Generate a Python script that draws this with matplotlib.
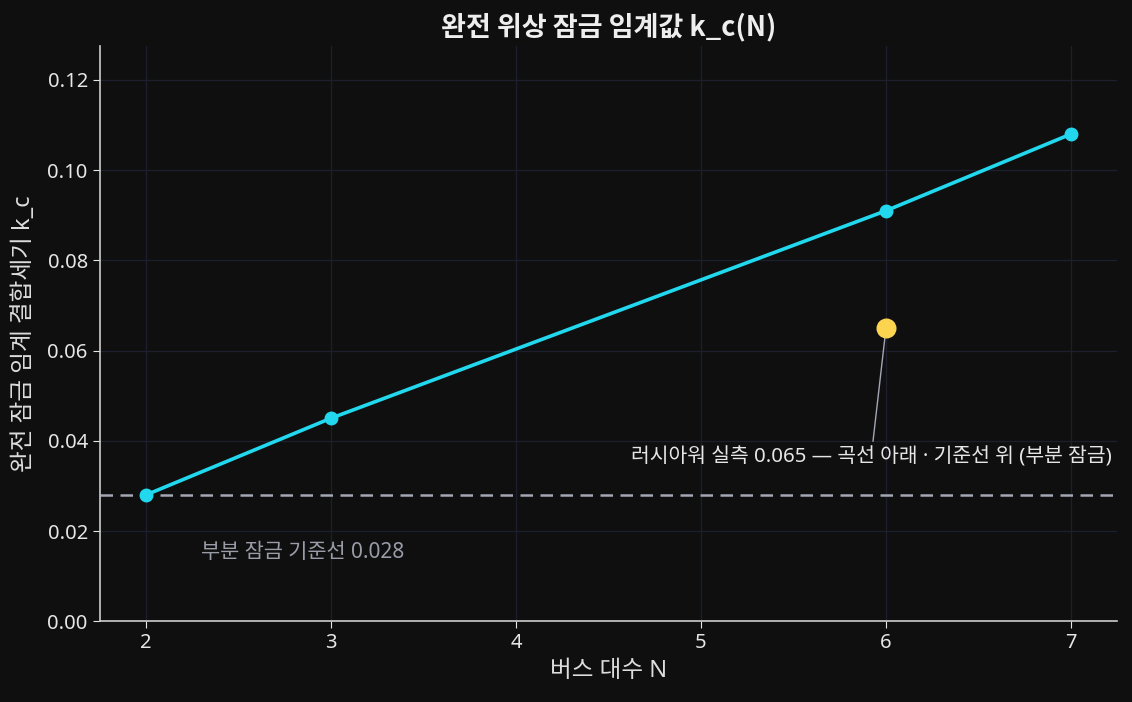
import matplotlib
matplotlib.use("Agg")
import matplotlib.pyplot as plt

plt.rcParams['font.family'] = ['Noto Sans', 'Noto Sans CJK KR', 'DejaVu Sans']
plt.rcParams['axes.unicode_minus'] = False

# data
bus_counts = [2, 3, 6, 7]
k_c = [0.028, 0.045, 0.091, 0.108]
measured_n = 6
measured_k = 0.065
baseline = 0.028

bg = '#0f0f0f'
fig, ax = plt.subplots(figsize=(11.32, 7.02), dpi=100)
fig.patch.set_facecolor(bg)
ax.set_facecolor(bg)

ax.grid(True, color='#1e1f2e', linewidth=0.9)
ax.set_axisbelow(True)

ax.axhline(baseline, color='#a3a6b4', linestyle='--', linewidth=1.8, dashes=(5, 3))
ax.plot(bus_counts, k_c, color='#22d8ee', linewidth=2.6, marker='o', markersize=9, zorder=3)
ax.scatter([measured_n], [measured_k], s=180, color='#fcd44f', zorder=4)

ax.annotate('러시아워 실측 0.065 — 곡선 아래 · 기준선 위 (부분 잠금)',
            xy=(measured_n, measured_k), xytext=(5.92, 0.0364),
            ha='center', va='center', fontsize=14.7, color='#e6e6e6',
            arrowprops=dict(arrowstyle='-', color='#a3a6b4', linewidth=1, shrinkA=2, shrinkB=6))
ax.text(2.3, 0.0153, f'부분 잠금 기준선 {baseline}', color='#9a9ca8', fontsize=15,
        ha='left', va='center')

ax.set_xlim(1.75, 7.25)
ax.set_ylim(0, max(k_c) * 1.18)
ax.set_yticks([0, 0.02, 0.04, 0.06, 0.08, 0.10, 0.12])
ax.yaxis.set_major_formatter(matplotlib.ticker.FormatStrFormatter('%.2f'))

ax.set_title('완전 위상 잠금 임계값 k_c(N)', color='#eeeeee', fontsize=19.5, fontweight='bold',
             pad=8, family=['Noto Sans CJK KR', 'DejaVu Sans'])
ax.set_xlabel('버스 대수 N', color='#dddddd', fontsize=17, labelpad=4)
ax.set_ylabel('완전 잠금 임계 결합세기 k_c', color='#dddddd', fontsize=17, labelpad=8)

for s in ['top', 'right']:
    ax.spines[s].set_visible(False)
for s in ['left', 'bottom']:
    ax.spines[s].set_color('#cccccc')
    ax.spines[s].set_linewidth(1.2)
ax.tick_params(colors='#e6e6e6', labelsize=14.5, length=5)

fig.subplots_adjust(left=0.088, right=0.987, top=0.934, bottom=0.115)
fig.savefig('out.png', dpi=100, facecolor=bg)
